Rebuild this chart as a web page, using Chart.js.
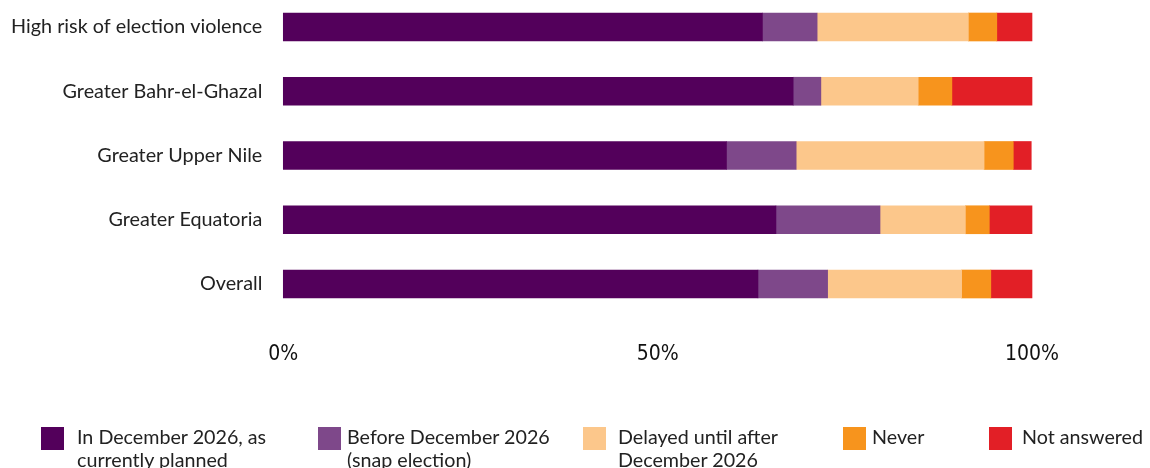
<!DOCTYPE html>
<html>
<head>
<meta charset="utf-8">
<script src="https://cdn.jsdelivr.net/npm/chart.js"></script>
<style>
    html, body { margin: 0; padding: 0; background: #fff; }
    #wrap { position: relative; width: 1150px; height: 468px; }
    #legend { position: absolute; left: 0; top: 0; width: 1150px; height: 468px; pointer-events: none; }
    .lg-item { position: absolute; top: 427px; font-family: Lato, sans-serif; font-size: 19.7px; line-height: 23px; color: #222; }
    .lg-box { position: absolute; left: 0; top: 0; width: 23px; height: 23px; }
    .lg-text { position: absolute; top: -2px; white-space: nowrap; }
</style>
</head>
<body>
<div id="wrap">
    <canvas id="chart-0" width="1150" height="468"></canvas>
    <div id="legend"></div>
</div>
<script>
var categories = ['High risk of election violence', 'Greater Bahr-el-Ghazal', 'Greater Upper Nile', 'Greater Equatoria', 'Overall'];

var seriesNames = [
    ['In December 2026, as', 'currently planned'],
    ['Before December 2026', '(snap election)'],
    ['Delayed until after', 'December 2026'],
    ['Never'],
    ['Not answered']
];

var plannedValues = [64.0, 68.1, 59.2, 65.8, 63.4];
var snapValues = [7.3, 3.7, 9.3, 13.9, 9.3];
var delayedValues = [20.2, 13.0, 25.1, 11.4, 17.9];
var neverValues = [3.8, 4.5, 3.9, 3.2, 3.9];
var notAnsweredValues = [4.7, 10.7, 2.4, 5.7, 5.5];

var tickValues = [0, 50, 100];

var colors = ['#53005b', '#7e488a', '#fcc78b', '#f7941d', '#e21f26'];
var seriesValues = [plannedValues, snapValues, delayedValues, neverValues, notAnsweredValues];

// legend placement (left edge of box, gap to text)
var legendLeft = [41, 318, 583, 843, 989];
var legendGap = [36, 29, 35, 29, 33];

var datasets = [];
var $each = function (arr, fn) { for (var i = 0; i < arr.length; i++) fn(i, arr[i]); };

$each(seriesValues, function (i, values) {
    datasets.push({
        label: seriesNames[i].join(' '),
        data: values,
        backgroundColor: colors[i],
        borderWidth: 0,
        barThickness: 28,
        clip: false
    });
});

new Chart('chart-0', {
    type: 'bar',
    data: {
        labels: categories,
        datasets: datasets
    },
    options: {
        indexAxis: 'y',
        responsive: false,
        animation: false,
        layout: {
            padding: { top: 27, right: 118, bottom: 84, left: 0 }
        },
        plugins: {
            legend: { display: false },
            tooltip: { enabled: false }
        },
        scales: {
            x: {
                stacked: true,
                min: 0,
                max: 100,
                afterBuildTicks: function (scale) {
                    scale.ticks = tickValues.map(function (v) { return { value: v }; });
                },
                afterFit: function (scale) { scale.height = 100; },
                grid: { display: false, drawTicks: false },
                border: { display: false },
                ticks: {
                    padding: 58,
                    color: '#111',
                    maxRotation: 0,
                    autoSkip: false,
                    font: { family: "'Liberation Sans Narrow', 'DejaVu Sans Condensed', sans-serif", size: 21 },
                    callback: function (v) { return v + '%'; }
                }
            },
            y: {
                stacked: true,
                offset: false,
                afterFit: function (scale) { scale.width = 283.3; },
                // gap between labels and bars comes from tickLength so it does not pad the top
                grid: { display: false, drawTicks: true, tickLength: 21 },
                border: { display: false },
                ticks: {
                    padding: 0,
                    color: '#222',
                    font: { family: 'Lato, sans-serif', size: 19.8 }
                }
            }
        }
    }
});

var legendEl = document.getElementById('legend');
$each(seriesNames, function (i, lines) {
    var item = document.createElement('div');
    item.className = 'lg-item';
    item.style.left = legendLeft[i] + 'px';
    var box = document.createElement('div');
    box.className = 'lg-box';
    box.style.background = colors[i];
    var txt = document.createElement('div');
    txt.className = 'lg-text';
    txt.style.left = legendGap[i] + 'px';
    txt.innerHTML = lines.join('<br>');
    item.appendChild(box);
    item.appendChild(txt);
    legendEl.appendChild(item);
});
</script>
</body>
</html>
